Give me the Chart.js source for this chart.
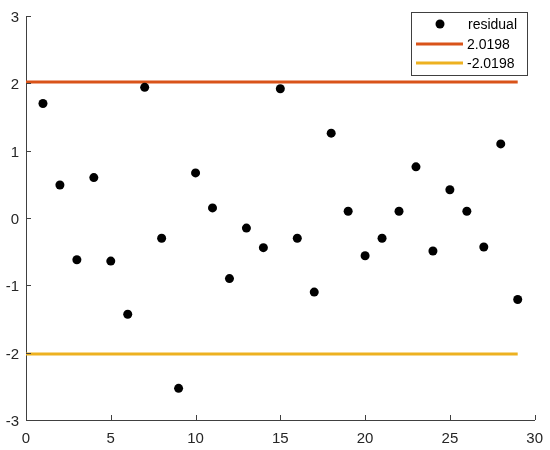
<!DOCTYPE html>
<html>
<head>
<meta charset="utf-8">
<script src="https://cdn.jsdelivr.net/npm/chart.js@4.4.1/dist/chart.umd.min.js"></script>
<style>
  html, body { margin: 0; padding: 0; background: #fff; }
  #wrap { width: 550px; height: 450px; }
</style>
</head>
<body>
<div id="wrap"><canvas id="c"></canvas></div>
<script>
const obs = [1, 2, 3, 4, 5, 6, 7, 8, 9, 10, 11, 12, 13, 14, 15, 16, 17, 18, 19, 20, 21, 22, 23, 24, 25, 26, 27, 28, 29];
const residual = [1.70, 0.49, -0.62, 0.60, -0.64, -1.43, 1.94, -0.30, -2.53, 0.67, 0.15, -0.90, -0.15, -0.44,
  1.92, -0.30, -1.10, 1.26, 0.10, -0.56, -0.30, 0.10, 0.76, -0.49, 0.42, 0.10, -0.43, 1.10, -1.21];
const bound = 2.0198;
const boundX = [0, 29];
const xTicks = [0, 5, 10, 15, 20, 25, 30];
const yTicks = [-3, -2, -1, 0, 1, 2, 3];

const axisColor = '#404040';
const font = "'Liberation Sans', Arial, Helvetica, sans-serif";

// MATLAB-style ticks pointing into the axes
const innerTicks = {
  id: 'innerTicks',
  afterDraw(chart) {
    const { ctx, chartArea: a, scales: { x, y } } = chart;
    ctx.save();
    ctx.strokeStyle = axisColor;
    ctx.lineWidth = 1;
    ctx.beginPath();
    xTicks.forEach(v => {
      const px = Math.round(x.getPixelForValue(v)) + 0.5;
      ctx.moveTo(px, a.bottom); ctx.lineTo(px, a.bottom - 5);
    });
    yTicks.forEach(v => {
      const py = Math.round(y.getPixelForValue(v)) + 0.5;
      ctx.moveTo(a.left, py); ctx.lineTo(a.left + 5, py);
    });
    ctx.stroke();
    ctx.restore();
  }
};

// legend box in the upper right corner
const boxLegend = {
  id: 'boxLegend',
  afterDraw(chart) {
    const { ctx } = chart;
    const l = 411, t = 12, w = 116, h = 63;
    ctx.save();
    ctx.fillStyle = '#fff';
    ctx.fillRect(l, t, w, h);
    ctx.strokeStyle = axisColor;
    ctx.lineWidth = 1;
    ctx.strokeRect(l + 0.5, t + 0.5, w, h);
    const rows = chart.data.datasets;
    const rowY = [24, 44, 63];
    ctx.font = '14px ' + font;
    ctx.textBaseline = 'middle';
    rows.forEach((ds, i) => {
      const yy = rowY[i];
      if (i === 0) {
        ctx.beginPath();
        ctx.arc(440, yy, 4.5, 0, Math.PI * 2);
        ctx.fillStyle = '#000';
        ctx.fill();
      } else {
        ctx.beginPath();
        ctx.strokeStyle = ds.borderColor;
        ctx.lineWidth = 3;
        ctx.moveTo(416, yy); ctx.lineTo(463, yy);
        ctx.stroke();
      }
      ctx.fillStyle = '#000';
      ctx.textAlign = i === 0 ? 'right' : 'left';
      ctx.fillText(ds.label, i === 0 ? 517 : 467, yy + 1);
    });
    ctx.restore();
  }
};

new Chart(document.getElementById('c'), {
  type: 'scatter',
  data: {
    datasets: [
      {
        label: 'residual',
        data: obs.map((o, i) => ({ x: o, y: residual[i] })),
        backgroundColor: '#000', borderColor: '#000',
        pointRadius: 4.5, pointHoverRadius: 4.5, borderWidth: 0, showLine: false
      },
      {
        label: bound.toFixed(4),
        data: boundX.map(v => ({ x: v, y: bound })),
        borderColor: '#D95319', backgroundColor: '#D95319',
        showLine: true, borderWidth: 3, pointRadius: 0, pointHoverRadius: 0
      },
      {
        label: (-bound).toFixed(4),
        data: boundX.map(v => ({ x: v, y: -bound })),
        borderColor: '#EDB120', backgroundColor: '#EDB120',
        showLine: true, borderWidth: 3, pointRadius: 0, pointHoverRadius: 0
      }
    ]
  },
  options: {
    responsive: true, maintainAspectRatio: false, animation: false,
    layout: { padding: { top: 16, right: 13, left: 0, bottom: 0 } },
    plugins: { legend: { display: false }, tooltip: { enabled: false } },
    scales: {
      x: {
        type: 'linear', min: 0, max: 30,
        afterBuildTicks: s => { s.ticks = xTicks.map(v => ({ value: v })); },
        afterFit: s => { s.height = 30; },
        grid: { drawOnChartArea: false, drawTicks: false },
        border: { color: axisColor, width: 1 },
        ticks: { padding: 7, color: '#262626', font: { family: font, size: 15, lineHeight: 1.6 }, maxRotation: 0 }
      },
      y: {
        type: 'linear', min: -3, max: 3,
        afterBuildTicks: s => { s.ticks = yTicks.map(v => ({ value: v })); },
        afterFit: s => { s.width = 26; },
        grid: { drawOnChartArea: false, drawTicks: false },
        border: { color: axisColor, width: 1 },
        ticks: { padding: 7, labelOffset: 2, color: '#262626', font: { family: font, size: 15 } }
      }
    }
  },
  plugins: [innerTicks, boxLegend]
});
</script>
</body>
</html>
